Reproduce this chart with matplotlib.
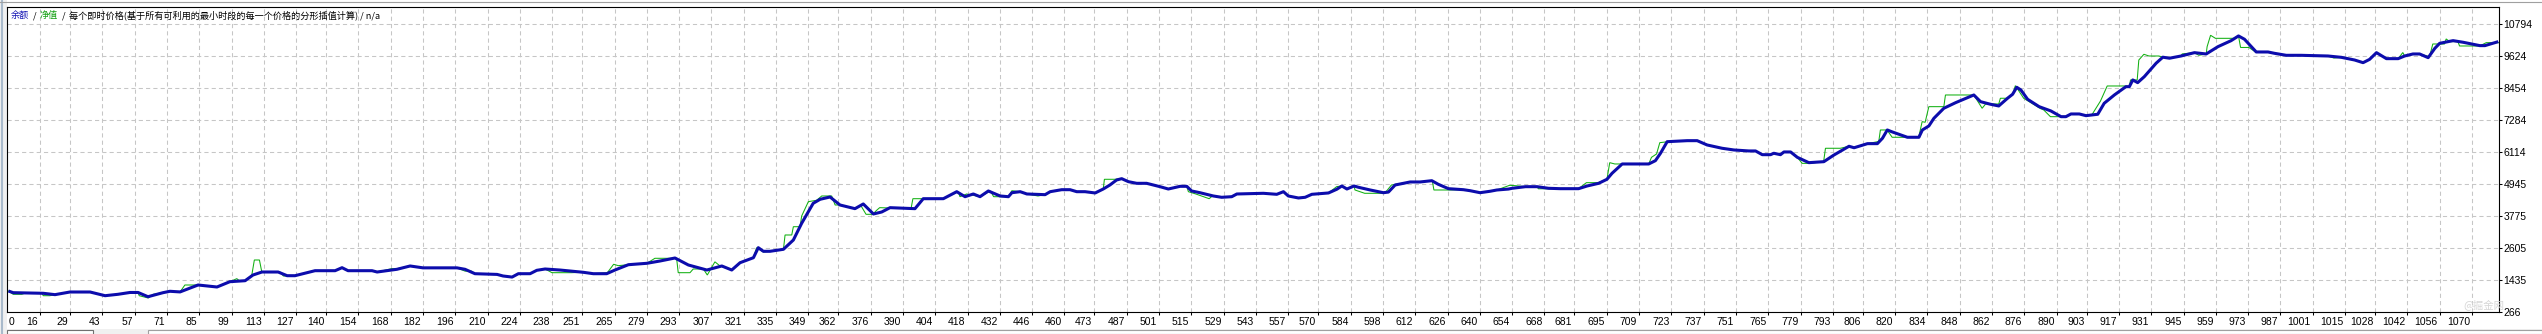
import matplotlib
matplotlib.use("Agg")
import matplotlib.pyplot as plt
from matplotlib.patches import Rectangle
from matplotlib.lines import Line2D
from matplotlib.transforms import ScaledTranslation

# ---------------- data ----------------
balance_x = [2.3, 4.4, 17.4, 22.5, 29.0, 37.7, 44.2, 49.8, 55.0, 58.5, 62.8, 69.3, 72.3, 76.7, 79.7, 84.5,
             92.7, 98.3, 104.9, 108.3, 112.2, 119.2, 123.1, 126.5, 135.2, 143.9, 146.9, 149.5, 159.9, 162.1,
             170.7, 176.4, 182.0, 196.7, 200.2, 204.5, 214.1, 216.7, 220.6, 223.3, 228.4, 231.3, 234.9, 241.4,
             251.5, 255.8, 261.6, 265.2, 271.0, 279.0, 284.7, 291.2, 297.0, 305.0, 311.5, 315.8, 319.4, 325.2,
             327.3, 329.5, 332.4, 338.2, 342.5, 346.1, 351.1, 354.1, 358.4, 362.7, 369.2, 372.8, 377.2, 380.8,
             384.4, 395.2, 398.8, 407.5, 413.3, 416.9, 420.5, 423.4, 427.0, 432.1, 435.7, 437.2, 440.8, 443.7,
             451.6, 453.8, 458.8, 462.4, 465.3, 468.9, 473.3, 476.8, 479.7, 482.6, 484.8, 487.7, 491.3, 495.6,
             501.4, 505.0, 510.1, 513.0, 515.1, 518.7, 524.5, 528.1, 532.5, 534.7, 546.2, 552.0, 554.9, 557.0,
             561.4, 564.3, 567.2, 574.4, 578.0, 580.2, 582.4, 585.5, 587.4, 592.5, 598.2, 600.4, 603.3, 609.8,
             614.1, 619.2, 622.0, 626.4, 632.9, 635.8, 640.1, 644.5, 647.4, 652.4, 654.0, 659.8, 664.8, 669.8,
             674.9, 682.8, 686.5, 691.5, 695.1, 697.3, 701.7, 713.2, 716.1, 718.3, 721.2, 729.9, 734.2, 738.5,
             745.0, 750.1, 756.6, 759.5, 762.4, 766.0, 767.4, 770.3, 771.8, 774.7, 777.6, 782.6, 789.1, 793.5,
             800.0, 802.2, 804.3, 808.0, 812.3, 814.5, 816.6, 818.8, 825.3, 830.3, 831.8, 834.6, 836.8, 841.1,
             846.2, 854.1, 857.0, 861.3, 864.9, 865.6, 868.7, 870.9, 872.7, 874.5, 877.4, 882.4, 887.5, 891.9,
             894.0, 896.2, 899.8, 902.7, 907.8, 910.6, 915.0, 920.0, 921.5, 923.0, 925.1, 928.0, 933.1, 936.0,
             938.9, 943.9, 949.7, 954.8, 959.9, 965.6, 968.8, 971.4, 976.5, 981.6, 984.4, 989.5, 996.0, 1007.6,
             1013.4, 1019.1, 1022.8, 1025.6, 1028.6, 1032.9, 1038.0, 1040.8, 1044.4, 1047.3, 1051.0, 1053.9,
             1056.0, 1061.8, 1066.2, 1073.4, 1075.6, 1081.4]
balance_y = [1034, 972, 950, 900, 997, 997, 862, 913, 980, 980, 825, 972, 1023, 1000, 1096, 1253,
             1180, 1374, 1410, 1618, 1728, 1728, 1593, 1593, 1776, 1776, 1886, 1776, 1776, 1728,
             1827, 1948, 1880, 1880, 1827, 1666, 1640, 1582, 1543, 1666, 1666, 1790, 1838, 1800,
             1717, 1666, 1666, 1801, 1995, 2046, 2130, 2240, 1984, 1801, 1948, 1801, 2068, 2251,
             2617, 2485, 2485, 2558, 2898, 3509, 4240, 4386, 4470, 4178, 4043, 4215, 3849, 3922,
             4080, 4043, 4408, 4408, 4664, 4481, 4580, 4481, 4690, 4507, 4481, 4627, 4664, 4580,
             4555, 4664, 4737, 4737, 4664, 4664, 4617, 4762, 4909, 5092, 5140, 5030, 4970, 4970,
             4847, 4762, 4860, 4860, 4690, 4627, 4507, 4459, 4481, 4580, 4605, 4568, 4664, 4507,
             4434, 4459, 4568, 4617, 4752, 4872, 4762, 4872, 4825, 4726, 4627, 4650, 4909, 5019,
             5019, 5066, 4934, 4774, 4737, 4700, 4627, 4680, 4726, 4760, 4788, 4847, 4847, 4788,
             4774, 4774, 4872, 4970, 5117, 5336, 5677, 5677, 5798, 6068, 6492, 6529, 6529, 6372,
             6251, 6189, 6153, 6153, 6017, 6017, 6068, 6017, 6116, 6116, 5920, 5725, 5761, 6006,
             6324, 6270, 6324, 6420, 6420, 6616, 6920, 6847, 6653, 6653, 6920, 7066, 7348, 7713,
             7918, 8199, 7955, 7860, 7797, 7850, 8079, 8225, 8480, 8382, 8042, 7772, 7615, 7406,
             7406, 7505, 7505, 7443, 7494, 7896, 8199, 8503, 8503, 8748, 8650, 8870, 9360, 9580,
             9543, 9624, 9746, 9698, 9965, 10185, 10357, 10236, 9771, 9771, 9722, 9649, 9649, 9624,
             9575, 9478, 9380, 9500, 9746, 9527, 9527, 9624, 9698, 9698, 9563, 9905,
             10088, 10185, 10125, 10003, 10003, 10149]

equity_x = [2.3, 4.4, 8.1, 9.5, 16.9, 17.4, 20.3, 22.5, 29.0, 37.7, 44.2, 49.8, 55.0, 58.5, 59.0, 62.9,
            65.1, 69.3, 72.3, 76.7, 78.8, 84.6, 92.7, 98.3, 101.3, 102.5, 104.9, 107.8, 108.9, 111.1, 112.1,
            119.2, 120.0, 121.5, 126.5, 135.2, 143.9, 146.9, 149.5, 159.9, 162.1, 168.4, 170.7, 176.4, 182.0,
            196.7, 200.2, 203.0, 204.5, 214.1, 216.7, 220.6, 223.3, 228.4, 231.3, 234.9, 237.9, 246.2, 251.5,
            255.8, 261.9, 264.6, 266.6, 271.0, 279.0, 282.5, 291.9, 292.6, 297.7, 299.1, 303.5, 305.2, 308.5,
            310.7, 315.8, 319.4, 325.2, 326.6, 329.5, 332.4, 338.2, 338.9, 341.8, 342.5, 345.4, 346.1, 349.0,
            352.6, 354.8, 359.1, 360.6, 362.7, 369.2, 371.8, 374.0, 376.9, 378.4, 379.9, 393.5, 394.3, 407.5,
            414.0, 414.7, 417.6, 423.4, 427.9, 429.3, 435.8, 437.2, 440.8, 443.7, 448.5, 451.6, 453.8, 458.8,
            462.4, 465.3, 468.9, 473.3, 476.8, 477.3, 481.6, 484.8, 487.7, 491.3, 495.6, 501.4, 505.0, 510.1,
            513.0, 513.7, 516.9, 522.7, 524.1, 528.1, 532.5, 534.7, 546.2, 552.0, 554.9, 557.0, 561.4, 564.3,
            567.2, 574.4, 578.0, 580.2, 582.4, 585.5, 585.9, 590.1, 598.8, 601.7, 609.8, 614.1, 619.4, 620.1,
            627.1, 632.9, 635.8, 640.1, 644.5, 647.4, 652.9, 655.3, 659.8, 664.8, 665.4, 669.8, 674.9, 682.8,
            686.2, 691.3, 695.1, 696.3, 698.5, 713.2, 714.4, 716.6, 718.0, 721.6, 729.9, 734.2, 738.5, 745.0,
            750.1, 756.6, 759.5, 762.4, 766.0, 767.4, 770.3, 771.8, 774.7, 777.6, 779.7, 782.6, 789.0, 789.8,
            796.3, 800.0, 802.2, 804.3, 808.0, 812.9, 813.6, 816.5, 818.7, 825.9, 830.2, 831.7, 833.0, 834.6,
            841.1, 841.8, 854.1, 857.7, 859.2, 864.9, 865.6, 868.5, 870.9, 872.1, 874.0, 875.7, 883.0, 884.4,
            887.3, 891.6, 894.0, 896.2, 899.8, 902.7, 905.4, 909.0, 911.9, 919.9, 921.5, 922.0, 924.9, 925.6,
            927.8, 930.0, 934.3, 936.0, 938.9, 943.9, 944.4, 949.7, 951.6, 954.8, 955.2, 956.7, 958.8, 966.8,
            968.8, 969.7, 973.3, 976.2, 981.6, 984.4, 989.5, 996.0, 1007.6, 1010.1, 1013.4, 1019.1, 1022.8,
            1025.6, 1028.6, 1032.9, 1038.0, 1040.0, 1040.8, 1044.4, 1047.3, 1051.6, 1053.0, 1058.1, 1058.8,
            1060.3, 1063.9, 1064.6, 1073.3, 1076.2, 1081.9]
equity_y = [1034, 913, 913, 955, 950, 862, 862, 900, 997, 997, 862, 913, 980, 980, 862, 778,
            913, 972, 1023, 1000, 1253, 1253, 1180, 1374, 1485, 1400, 1410, 1618, 2167, 2167, 1740,
            1728, 1728, 1582, 1593, 1776, 1776, 1886, 1776, 1776, 1728, 1850, 1850, 1948, 1880,
            1880, 1760, 1760, 1666, 1640, 1582, 1543, 1666, 1666, 1790, 1838, 1703, 1703, 1717,
            1666, 1703, 2010, 1960, 1995, 2046, 2229, 2229, 1703, 1703, 1838, 1838, 1618, 2100,
            1950, 1801, 2068, 2251, 2617, 2460, 2485, 2558, 3081, 3081, 3384, 3384, 3776, 4300,
            4350, 4507, 4507, 4178, 4178, 4043, 4150, 3837, 3837, 3970, 4080, 4043, 4408, 4408,
            4664, 4481, 4580, 4481, 4690, 4481, 4481, 4700, 4664, 4580, 4507, 4555, 4664, 4737,
            4737, 4664, 4664, 4617, 4762, 5117, 5117, 5140, 5030, 4970, 4970, 4847, 4762, 4860,
            4860, 4664, 4580, 4408, 4507, 4459, 4481, 4580, 4605, 4568, 4664, 4507, 4434, 4459,
            4568, 4617, 4850, 4872, 4762, 4872, 4726, 4605, 4605, 4909, 5019, 5019, 5066, 4726,
            4726, 4737, 4700, 4627, 4680, 4726, 4897, 4884, 4847, 4847, 4770, 4770, 4774, 4774,
            4994, 4994, 5117, 5725, 5677, 5677, 5920, 6043, 6456, 6492, 6529, 6529, 6372, 6251,
            6189, 6153, 6153, 6017, 6017, 6068, 6017, 6116, 6116, 5920, 5700, 5700, 5761, 6251,
            6251, 6324, 6270, 6324, 6420, 6500, 6920, 6920, 6653, 6653, 6653, 7225, 7200, 7772,
            7772, 8199, 8199, 7713, 7870, 7870, 8079, 8079, 8225, 8540, 8297, 8079, 7700, 7651,
            7406, 7406, 7406, 7505, 7505, 7443, 7494, 7980, 8528, 8528, 8503, 8748, 8748, 9478,
            9686, 9624, 9624, 9580, 9543, 9624, 9700, 9746, 9650, 9698, 9965, 10381, 10270, 10270,
            10357, 9936, 9936, 9771, 9771, 9722, 9649, 9649, 9624, 9550, 9575, 9478, 9380,
            9500, 9746, 9527, 9527, 9750, 9624, 9698, 9698, 9600, 10063, 10063, 10248,
            10150, 10150, 9990, 9990, 10112, 10112]

x_tick_labels = ["16", "29", "43", "57", "71", "85", "99", "113", "127", "140", "154", "168", "182", "196",
                 "210", "224", "238", "251", "265", "279", "293", "307", "321", "335", "349", "362", "376",
                 "390", "404", "418", "432", "446", "460", "473", "487", "501", "515", "529", "543", "557",
                 "570", "584", "598", "612", "626", "640", "654", "668", "681", "695", "709", "723", "737",
                 "751", "765", "779", "793", "806", "820", "834", "848", "862", "876", "890", "903", "917",
                 "931", "945", "959", "973", "987", "1001", "1015", "1028", "1042", "1056", "1070"]
first_x_label = "0"
y_ticks = [266, 1435, 2605, 3775, 4945, 6114, 7284, 8454, 9624, 10794]
x_range = (1.7, 1081.7)
y_range = (266, 11415)

legend_parts = [("余额", "#1414b4"), ("/", "#000000"), ("净值", "#12a012"), ("/", "#000000"),
                ("每个即时价格(基于所有可利用的最小时段的每一个价格的分形插值计算) / n/a", "#000000")]
watermark = "@掘金网"

# ---------------- figure ----------------
W, H = 2542, 334
DPI = 100
fig = plt.figure(figsize=(W / DPI, H / DPI), dpi=DPI, facecolor="white")

def fx(px):
    return px / W

def fy(py):
    return 1 - py / H

num_font = ["Liberation Sans Narrow", "Liberation Sans", "DejaVu Sans"]
cjk_font = ["Noto Sans CJK SC", "DejaVu Sans"]

# window chrome
fig.add_artist(Rectangle((0, 0), fx(7), 1, transform=fig.transFigure, facecolor="#f0f0f0", edgecolor="none", zorder=0))
fig.add_artist(Line2D([fx(1.5), fx(1.5)], [0, 1], transform=fig.transFigure, color="#a9bacb", lw=1.5))
fig.add_artist(Line2D([0, 1], [fy(2), fy(2)], transform=fig.transFigure, color="#a0a0a0", lw=0.8))
fig.add_artist(Rectangle((0, 0), 1, fy(329), transform=fig.transFigure, facecolor="#f0f0f0", edgecolor="none", zorder=0))
fig.add_artist(Rectangle((fx(7), 0), fx(86), fy(330), transform=fig.transFigure, facecolor="white",
                         edgecolor="#707070", lw=0.8, zorder=1))
fig.add_artist(Rectangle((fx(148), 0), fx(W - 148), fy(330), transform=fig.transFigure, facecolor="white",
                         edgecolor="#a0a0a0", lw=0.8, zorder=1))

ax = fig.add_axes([fx(7), 1 - 312 / H, (2499 - 7) / W, (312 - 7) / H])
ax.set_facecolor("white")

ax.plot(equity_x, equity_y, color="#12b012", lw=0.75, zorder=3, solid_joinstyle="miter")
ax.plot(balance_x, balance_y, color="#0c0cac", lw=2.2, zorder=4, solid_capstyle="butt")

ax.set_xlim(*x_range)
ax.set_ylim(*y_range)

ax.yaxis.tick_right()
ax.set_yticks(y_ticks)
ax.set_yticklabels([str(v) for v in y_ticks], fontfamily=num_font, fontsize=7.5)
ax.set_xticks([int(s) for s in x_tick_labels])
ax.set_xticklabels(x_tick_labels, fontfamily=num_font, fontsize=7.5, ha="right")
ax.tick_params(axis="both", direction="out", length=2.3, width=0.75, color="black", labelcolor="black")
ax.tick_params(axis="x", pad=1.2)
ax.tick_params(axis="y", pad=0.8)
offset = ScaledTranslation(-2 / DPI, 0, fig.dpi_scale_trans)
for lab in ax.get_xticklabels():
    lab.set_transform(lab.get_transform() + offset)

ax.annotate(first_x_label, xy=(0, 0), xycoords="axes fraction", xytext=(1.2, -3.5),
            textcoords="offset points", ha="left", va="top", fontfamily=num_font, fontsize=7.5)

ax.grid(True, color="#c6c6c6", linestyle=(0, (4, 3)), linewidth=0.75)
ax.set_axisbelow(True)
for sp in ax.spines.values():
    sp.set_color("black")
    sp.set_linewidth(0.8)

# legend line at top
renderer = fig.canvas.get_renderer()
xpos = 11
for i, (txt, col) in enumerate(legend_parts):
    t = fig.text(fx(xpos), fy(15.5), txt, color=col, fontfamily=cjk_font, fontsize=6.6,
                 ha="left", va="center", zorder=10)
    bb = t.get_window_extent(renderer)
    xpos = bb.x1 + 3.5

# faint watermark
fig.text(fx(2463), fy(305), watermark, color="#d6d6d6", fontfamily=cjk_font, fontsize=7.5,
         ha="left", va="center", zorder=10)

fig.savefig("out.png", dpi=DPI, facecolor="white")
